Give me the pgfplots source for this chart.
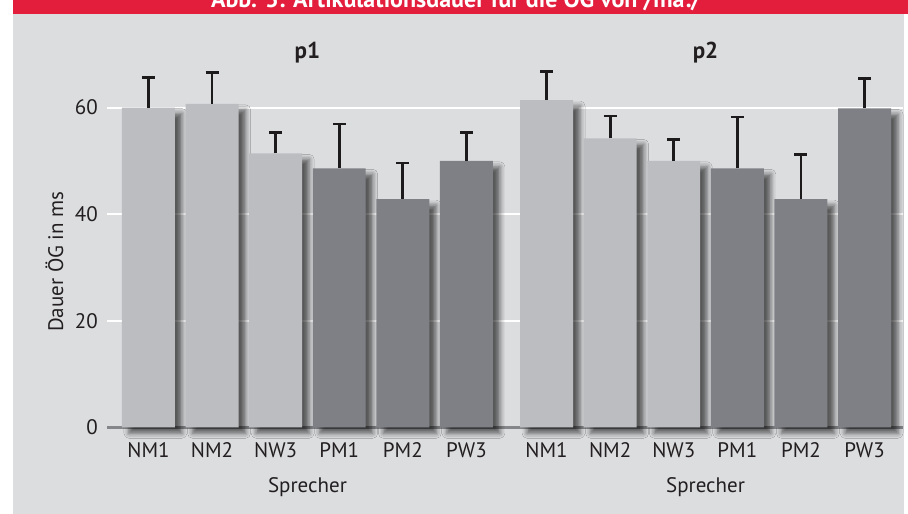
\documentclass[border=0pt]{standalone}
\usepackage{fontspec}
\setmainfont{PT Sans}
\usepackage{pgfplots}
\pgfplotsset{compat=1.18}
\usetikzlibrary{shadows.blur}
\definecolor{bg}{HTML}{DCDDDF}
\definecolor{redb}{HTML}{E31D3C}
\definecolor{lightbar}{HTML}{BCBDC1}
\definecolor{darkbar}{HTML}{7F8085}
\definecolor{errc}{HTML}{1C1A1B}
\definecolor{txt}{HTML}{231F20}
\definecolor{axisgray}{HTML}{858689}
\begin{document}
\fontsize{21bp}{25bp}\selectfont
\begin{tikzpicture}[x=1bp,y=1bp]
\useasboundingbox (0,0) rectangle (908,514);
\fill[white] (0,0) rectangle (908,514);
\fill[bg] (13,0) rectangle (904,500);
\fill[redb] (13,500) rectangle (908,514);
\begin{scope}
\clip (13,500) rectangle (908,514);
\node[anchor=base, text=white, font=\bfseries\fontsize{24bp}{28bp}\selectfont] at (456,506.5) {Abb. 3: Artikulationsdauer für die ÖG von /ma:/};
\end{scope}
\begin{axis}[
  at={(107bp,86.7bp)}, anchor=south west,
  scale only axis, width=796bp, height=394.4bp,
  xmin=-0.652, xmax=11.865, ymin=0, ymax=74,
  axis x line=bottom, axis y line=left,
  x axis line style={-, color=axisgray, line width=2.7bp},
  y axis line style={draw=none},
  major tick length=0pt,
  ytick={0,20,40,60},
  xtick={0,1,2,3,4,5,6.26,7.26,8.26,9.26,10.26,11.26},
  xticklabels={NM1,NM2,NW3,PM1,PM2,PW3,NM1,NM2,NW3,PM1,PM2,PW3},
  ymajorgrids, grid style={white, line width=2bp},
  /pgf/number format/assume math mode=true,
  tick label style={text=txt},
  xticklabel style={yshift=-8bp},
  yticklabel style={xshift=-2bp},
  ylabel={Dauer ÖG in ms},
  ylabel style={at={(axis description cs:-0.066,0.42)}, anchor=center, text=txt},
  clip=false,
]
\addplot[ybar, bar shift=0pt, bar width=0.833, fill=lightbar, draw=none,
  blur shadow={shadow xshift=7bp, shadow yshift=-6bp, shadow blur radius=5bp, shadow opacity=60}]
  coordinates {(0,60.0) (1,60.7) (2,51.4) (6.26,61.4) (7.26,54.2) (8.26,50.0)};
\addplot[ybar, bar shift=0pt, bar width=0.833, fill=darkbar, draw=none,
  blur shadow={shadow xshift=7bp, shadow yshift=-6bp, shadow blur radius=5bp, shadow opacity=60}]
  coordinates {(3,48.6) (4,42.8) (5,50.0) (9.26,48.6) (10.26,42.8) (11.26,59.85)};
\addplot[draw=none, mark=none,
  error bars/.cd, y dir=plus, y explicit,
  error bar style={line width=2.7bp, color=errc},
  error mark options={rotate=90, mark size=6.5bp, line width=2.7bp, color=errc}]
  coordinates {
  (0,60.0) +- (0,5.6)
  (1,60.7) +- (0,5.9)
  (2,51.4) +- (0,3.9)
  (3,48.6) +- (0,8.3)
  (4,42.8) +- (0,6.8)
  (5,50.0) +- (0,5.3)
  (6.26,61.4) +- (0,5.4)
  (7.26,54.2) +- (0,4.2)
  (8.26,50.0) +- (0,4.0)
  (9.26,48.6) +- (0,9.6)
  (10.26,42.8) +- (0,8.4)
  (11.26,59.85) +- (0,5.6)
  };
\node[text=txt, font=\bfseries\fontsize{23bp}{27bp}\selectfont] at (axis cs:2.5,70.3) {p1};
\node[text=txt, font=\bfseries\fontsize{23bp}{27bp}\selectfont] at (axis cs:8.76,70.3) {p2};
\node[text=txt] at (axis cs:2.5,0) [yshift=-60bp] {Sprecher};
\node[text=txt] at (axis cs:8.76,0) [yshift=-60bp] {Sprecher};
\end{axis}
\end{tikzpicture}
\end{document}
